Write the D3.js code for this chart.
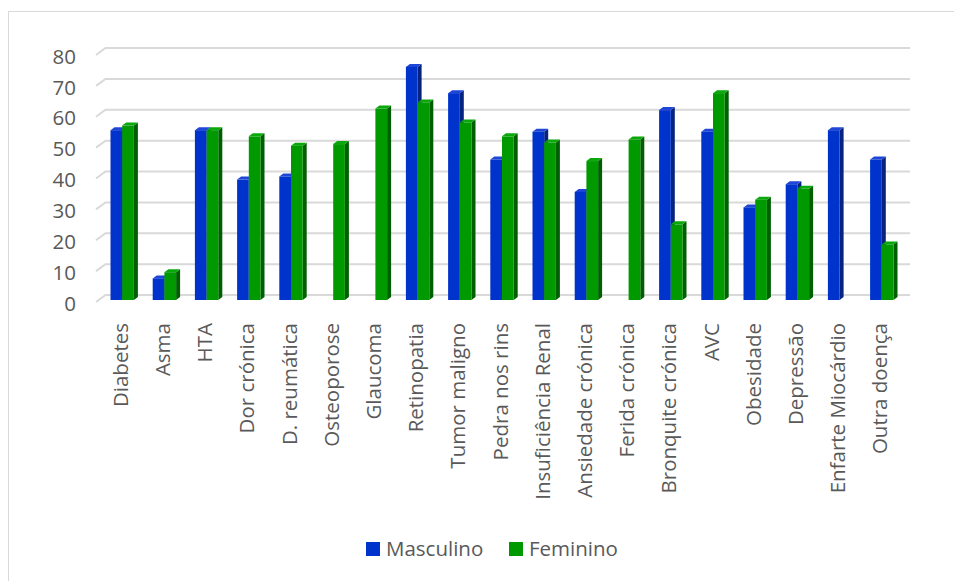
<!DOCTYPE html>
<html>
<head>
<meta charset="utf-8">
<script src="https://cdn.jsdelivr.net/npm/d3@7"></script>
<style>
  html, body { margin: 0; padding: 0; background: #ffffff; }
  svg { display: block; }
  text { font-family: "Open Sans", "DejaVu Sans", sans-serif; fill: #595959; }
</style>
</head>
<body>
<svg id="chart" width="954" height="581"></svg>
<script>
// Doenças crónicas por sexo (%)
const categories = [
  "Diabetes", "Asma", "HTA", "Dor crónica", "D. reumática", "Osteoporose",
  "Glaucoma", "Retinopatia", "Tumor maligno", "Pedra nos rins",
  "Insuficiência Renal", "Ansiedade crónica", "Ferida crónica",
  "Bronquite crónica", "AVC", "Obesidade", "Depressão",
  "Enfarte Miocárdio", "Outra doença"
];
const masculino = [55, 7, 55, 39, 40, null, null, 75.5, 67, 45.5, 54.5, 35, null, 61.5, 54.5, 30, 37.5, 55, 45.5];
const feminino  = [56.5, 9, 55, 53, 50, 50.5, 62, 64, 57.5, 53, 51, 45, 52, 24.5, 67, 32.5, 36, null, 18];
const seriesNames = ["Masculino", "Feminino"];
const yTicks = [0, 10, 20, 30, 40, 50, 60, 70, 80];

const svg = d3.select("#chart");

// chart area border
svg.append("rect")
  .attr("x", 8.5).attr("y", 11.5)
  .attr("width", 1000).attr("height", 700)
  .attr("fill", "#ffffff").attr("stroke", "#d9d9d9").attr("stroke-width", 1);

// oblique 3D geometry
const wallShift = { dx: 9.5, dy: -7 };   // front plane -> back wall
const barDepth = { dx: 4, dy: -3 };      // depth of each column
const frontLeft = 96, bandStep = 42.2;

const yBack = d3.scaleLinear().domain([0, 80]).range([295, 48]);
const yBar = d3.scaleLinear().domain([0, 80]).range([300, 53]);

const x = d3.scaleBand()
  .domain(categories)
  .range([frontLeft, frontLeft + bandStep * categories.length])
  .paddingInner(0).paddingOuter(0);

const xs = d3.scaleBand()
  .domain(seriesNames)
  .range([14.5, 14.5 + 23.4]);

const colors = {
  Masculino: { front: "#0033cc", top: "#1f46d6", side: "#06237f" },
  Feminino:  { front: "#009900", top: "#0aa80a", side: "#005f00" }
};

// gridlines: back wall line plus the short left-wall diagonal
const grid = svg.append("g").attr("stroke", "#d9d9d9").attr("stroke-width", 2).attr("fill", "none");
const wallRight = 910;
yTicks.forEach(v => {
  const yb = yBack(v);
  grid.append("path")
    .attr("d", d3.line()([
      [frontLeft, yb - wallShift.dy],
      [frontLeft + wallShift.dx, yb],
      [wallRight, yb]
    ]));
});

// y tick labels
svg.append("g").selectAll("text")
  .data(yTicks)
  .join("text")
  .attr("x", 76)
  .attr("y", d => yBack(d) - wallShift.dy + 1.5)
  .attr("dy", "0.35em")
  .attr("text-anchor", "end")
  .attr("font-size", 20.5)
  .text(d => d);

// columns
const barsG = svg.append("g");
function drawBar(cat, name, value) {
  if (value == null) return;
  const c = colors[name];
  const x0 = x(cat) + xs(name), w = xs.bandwidth();
  const y0 = yBar(value), yb = yBar(0);
  const { dx, dy } = barDepth;
  const g = barsG.append("g");
  // side face
  g.append("path").attr("fill", c.side)
    .attr("d", d3.line()([[x0 + w, y0], [x0 + w + dx, y0 + dy], [x0 + w + dx, yb + dy], [x0 + w, yb]]) + "Z");
  // top face
  g.append("path").attr("fill", c.top)
    .attr("d", d3.line()([[x0, y0], [x0 + dx, y0 + dy], [x0 + w + dx, y0 + dy], [x0 + w, y0]]) + "Z");
  // front face
  g.append("rect").attr("fill", c.front)
    .attr("x", x0).attr("y", y0).attr("width", w).attr("height", yb - y0);
}
categories.forEach((cat, i) => {
  drawBar(cat, "Masculino", masculino[i]);
  drawBar(cat, "Feminino", feminino[i]);
});

// category labels (rotated)
svg.append("g").selectAll("text")
  .data(categories)
  .join("text")
  .attr("transform", d => `translate(${x(d) + xs.range()[0] + 23.4 / 2 - 1.5},323) rotate(-90)`)
  .attr("dy", "0.35em")
  .attr("text-anchor", "end")
  .attr("font-size", 20.5)
  .text(d => d);

// legend
const legend = svg.append("g");
const legendItems = [
  { name: "Masculino", x: 366 },
  { name: "Feminino", x: 509 }
];
legendItems.forEach(item => {
  legend.append("rect")
    .attr("x", item.x).attr("y", 542)
    .attr("width", 14).attr("height", 14)
    .attr("fill", colors[item.name].front);
  legend.append("text")
    .attr("x", item.x + 20).attr("y", 556)
    .attr("font-size", 20.5)
    .text(item.name);
});
</script>
</body>
</html>
